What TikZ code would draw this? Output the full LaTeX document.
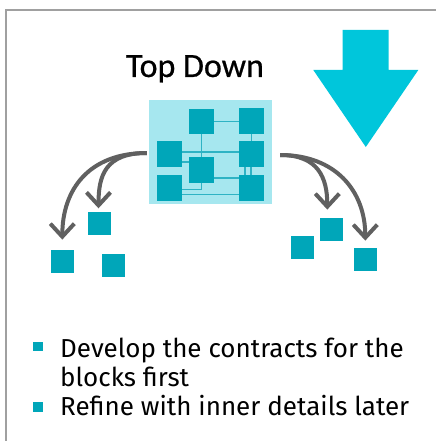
\documentclass[tikz,border=0pt]{standalone}
\usepackage{fontspec}
\setmainfont{Fira Sans}
\newfontfamily\titlefont[FakeBold=0.6]{Carlito}
\usetikzlibrary{arrows.meta,calc}
\definecolor{teal}{HTML}{00A6B9}
\definecolor{paleblue}{HTML}{A6E7EF}
\definecolor{wire}{HTML}{2EB3C4}
\definecolor{bigcyan}{HTML}{00C6DB}
\definecolor{framegray}{HTML}{A0A0A0}
\definecolor{flowgray}{HTML}{606060}
\begin{document}
\begin{tikzpicture}[x=1pt,y=-1pt,
  blk/.style={rectangle,fill=teal,inner sep=0,minimum size=25pt},
  piece/.style={rectangle,fill=teal,inner sep=0,minimum size=23pt},
  bulletsq/.style={rectangle,fill=teal,inner sep=0,minimum size=9.5pt},
  wireline/.style={draw=wire,line width=1.6pt},
  flow/.style={draw=flowgray,line width=4pt,
    -{Straight Barb[length=13pt,width=24pt,line width=4pt]}},
  bullettext/.style={anchor=base west,inner sep=0,font=\fontsize{26}{29}\selectfont}]
\useasboundingbox (0,0) rectangle (436,441);

% frame
\draw[framegray,line width=2pt] (6,441) -- (6,10) -- (436,10);

% big downward arrow
\fill[bigcyan] (342.7,30) -- (388.7,30) -- (388.7,70) -- (418.3,70)
  -- (365.8,147) -- (313.3,70) -- (342.7,70) -- cycle;

% title
\node[anchor=base,inner sep=0,font=\titlefont\fontsize{34}{40}\selectfont] (title) at (195,77) {Top Down};

% system block with its internal blocks
\node[rectangle,fill=paleblue,inner sep=0,minimum width=123pt,minimum height=104pt] (sys) at (210.5,152) {};
\node[blk] (A) at (201.5,121.5) {};
\node[blk] (B) at (251.5,121) {};
\node[blk] (C) at (169.5,154) {};
\node[blk] (D) at (251.5,154) {};
\node[blk] (E) at (201.5,170) {};
\node[blk] (F) at (169.5,188) {};
\node[blk] (G) at (251.5,188) {};

% wiring between the internal blocks
\draw[wireline] (A.east) -- (A.east -| B.west);
\draw[wireline] (A.south) -- (E.north);
\draw[wireline] (B.south) -- (D.north);
\draw[wireline] ([yshift=2pt]C.east) -- ([yshift=2pt]C.east -| D.west);
\draw[wireline] ([yshift=-8pt]C.east) -- ([yshift=-8pt]C.east -| E.west);
\draw[wireline] ([yshift=-8pt]E.east) -- ([yshift=-8pt]E.east -| D.west);
\draw[wireline] ([xshift=-6.5pt]D.south) -- ([xshift=-6.5pt]G.north);
\draw[wireline] ([xshift=-0.5pt]D.south) -- ([xshift=-0.5pt]G.north);
\draw[wireline] (E.south) |- ([yshift=-1.3pt]F.east);
\draw[wireline] ([yshift=-6.3pt]F.east) -- ([yshift=-6.3pt]F.east -| G.west);
% redraw the blocks over the wires
\foreach \n in {A,B,C,D,E,F,G} \fill[teal] (\n.north west) rectangle (\n.south east);

% decomposed pieces
\node[piece] (l1) at (99.5,223) {};
\node[piece] (l2) at (62.3,261.3) {};
\node[piece] (l3) at (113.3,265.3) {};
\node[piece] (r1) at (331.3,229.3) {};
\node[piece] (r2) at (302.3,247.3) {};
\node[piece] (r3) at (365.3,259.3) {};

% decomposition arrows
\coordinate (lt) at ($(sys.west)+(-2,1)$);
\coordinate (rt) at ($(sys.east)+(8,3)$);
\draw[flow] (lt) .. controls +(-58,0) and +(0,-50) .. ($(l2.north)+(0,-10)$);
\draw[flow] (lt) .. controls +(-42,0) and +(0,-32) .. ($(l1.north)+(-1,-3)$);
\draw[flow] (rt) .. controls +(38,0) and +(0,-32) .. ($(r1.north)+(-4,-8)$);
\draw[flow] (rt) .. controls +(55,0) and +(0,-50) .. ($(r3.north)+(0,-7)$);

% bullet list
\node[bulletsq] (b1) at (38,346.3) {};
\node[bulletsq] (b2) at (38,407) {};
\node[bullettext] (t1) at (60,357) {Develop the contracts for the};
\node[bullettext] (t2) at (60,386.5) {blocks first};
\node[bullettext] (t3) at (60,415.5) {Refine with inner details later};
\end{tikzpicture}
\end{document}
